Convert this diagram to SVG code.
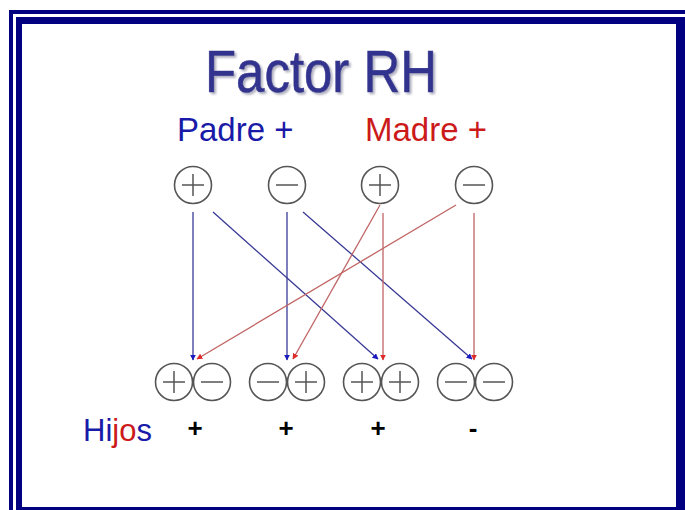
<svg xmlns="http://www.w3.org/2000/svg" width="685" height="510" viewBox="0 0 685 510">
<style>
.sym{fill:none;stroke:#555;stroke-width:1.5}
.ring{fill:#fff;stroke:#555;stroke-width:1.6}
.bl{stroke:#3a3a96;stroke-width:1.3;fill:none}
.rd{stroke:#c06464;stroke-width:1.3;fill:none}
.lab{font-family:"Liberation Sans",Arial,sans-serif}
</style>
<defs>
<filter id="sh" x="-5%" y="-10%" width="115%" height="130%"><feDropShadow dx="2" dy="2" stdDeviation="1" flood-color="#9a9ab0" flood-opacity="0.8"/></filter>
<marker id="ab" viewBox="0 0 10 10" refX="9" refY="5" markerWidth="6" markerHeight="6" orient="auto" markerUnits="userSpaceOnUse"><path d="M0,0L10,5L0,10z" fill="#1a1ac0"/></marker>
<marker id="ar" viewBox="0 0 10 10" refX="9" refY="5" markerWidth="6" markerHeight="6" orient="auto" markerUnits="userSpaceOnUse"><path d="M0,0L10,5L0,10z" fill="#e02a2a"/></marker>
<g id="plus"><circle class="ring" r="18.5"/><path class="sym" d="M-11,0H11M0,-11V11"/></g>
<g id="minus"><circle class="ring" r="18.5"/><path class="sym" d="M-11,0H11"/></g>
</defs>
<rect x="0" y="0" width="685" height="510" fill="#fff"/>
<rect x="9" y="10" width="676" height="500" fill="#000080"/>
<rect x="13" y="14" width="672" height="496" fill="#fff"/>
<rect x="16" y="17" width="669" height="493" fill="#000080"/>
<rect x="22" y="24" width="654" height="483" fill="#fff"/>
<g id="title">
<text class="lab" x="205" y="92" font-size="60" fill="#33338f" stroke="#33338f" stroke-width="0.6" textLength="232" lengthAdjust="spacingAndGlyphs" filter="url(#sh)">Factor RH</text>
</g>
<g id="padre"><text class="lab" x="177" y="141" font-size="33" fill="#1a1aa8">Padre +</text></g>
<g id="madre"><text class="lab" x="365" y="141" font-size="33" fill="#cc1a1a">Madre +</text></g>
<g id="p1"><use href="#plus" x="193" y="185"/></g>
<g id="p2"><use href="#minus" x="287" y="185"/></g>
<g id="m1"><use href="#plus" x="380" y="185"/></g>
<g id="m2"><use href="#minus" x="474" y="185"/></g>
<g id="c1"><use href="#plus" x="174" y="382"/><use href="#minus" x="212" y="382"/></g>
<g id="c2"><use href="#minus" x="268" y="382"/><use href="#plus" x="306" y="382"/></g>
<g id="c3"><use href="#plus" x="362" y="382"/><use href="#plus" x="400" y="382"/></g>
<g id="c4"><use href="#minus" x="456" y="382"/><use href="#minus" x="494" y="382"/></g>
<g id="connectors">
<path class="bl" d="M193,212V360" marker-end="url(#ab)"/>
<path class="bl" d="M213,212L378,359" marker-end="url(#ab)"/>
<path class="bl" d="M287,212V360" marker-end="url(#ab)"/>
<path class="bl" d="M303,212L472,359" marker-end="url(#ab)"/>
<path class="rd" d="M380,205L293,359" marker-end="url(#ar)"/>
<path class="rd" d="M383,213V360" marker-end="url(#ar)"/>
<path class="rd" d="M456,205L197,359" marker-end="url(#ar)"/>
<path class="rd" d="M474,213V360" marker-end="url(#ar)"/>
</g>
<g id="hijos">
<text class="lab" x="83" y="441" font-size="31"><tspan fill="#1a1aa8">H</tspan><tspan fill="#1a1aa8">i</tspan><tspan fill="#cc1a1a">jo</tspan><tspan fill="#1a1aa8">s</tspan></text>
<text class="lab" x="195" y="437" font-size="26" font-weight="bold" text-anchor="middle">+</text>
<text class="lab" x="286" y="437" font-size="26" font-weight="bold" text-anchor="middle">+</text>
<text class="lab" x="378" y="437" font-size="26" font-weight="bold" text-anchor="middle">+</text>
<text class="lab" x="473" y="437" font-size="26" font-weight="bold" text-anchor="middle">-</text>
</g>
</svg>
